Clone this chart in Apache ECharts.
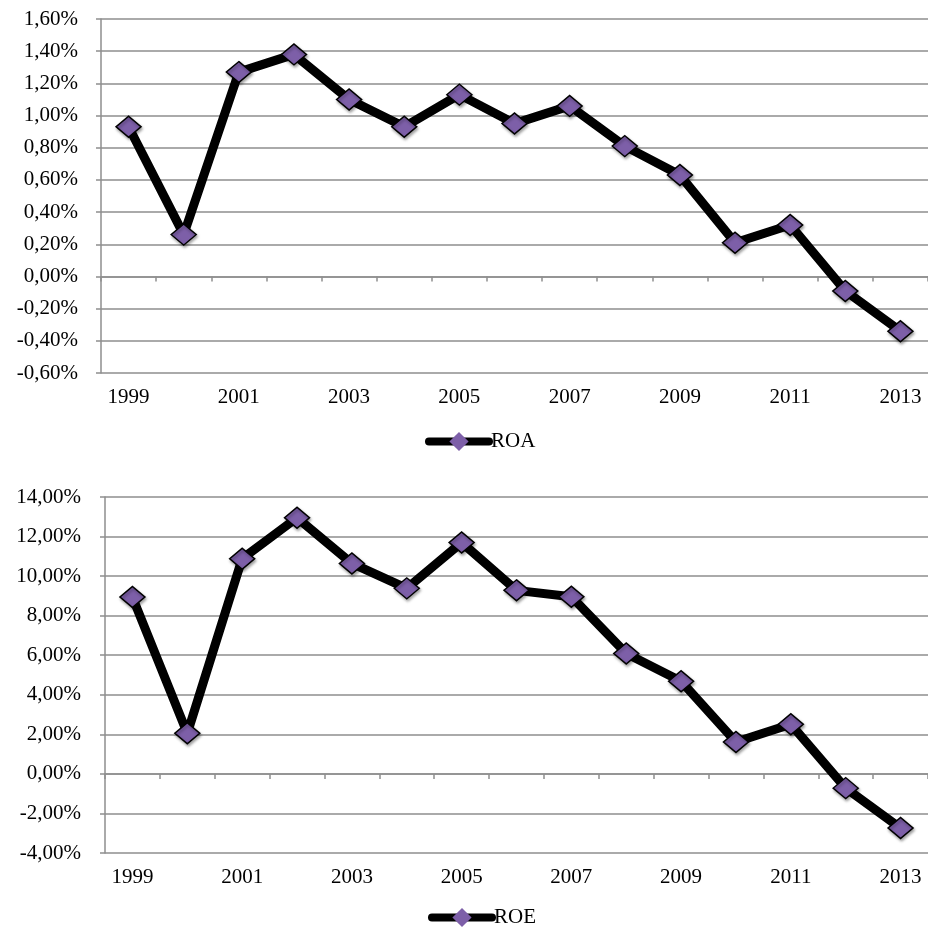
<!DOCTYPE html>
<html>
<head>
<meta charset="utf-8">
<script src="https://cdn.jsdelivr.net/npm/echarts@6/dist/echarts.min.js"></script>
<style>
html,body{margin:0;padding:0;background:#fff;}
#chart{width:928px;height:929px;}
</style>
</head>
<body>
<div id="chart"></div>
<script>
const years = ['1999','2000','2001','2002','2003','2004','2005','2006','2007','2008','2009','2010','2011','2012','2013'];
const roa = [0.93, 0.26, 1.27, 1.38, 1.10, 0.93, 1.13, 0.95, 1.06, 0.81, 0.63, 0.21, 0.32, -0.09, -0.34];
const roe = [8.94, 2.05, 10.88, 12.95, 10.64, 9.38, 11.70, 9.28, 8.96, 6.09, 4.68, 1.61, 2.51, -0.72, -2.74];
const roaAxis = {min: -0.6, max: 1.6, interval: 0.2};
const roeAxis = {min: -4, max: 14, interval: 2};

const FONT = "'Liberation Serif','Times New Roman',serif";
const GRID_COLOR = '#8e8e8e';
const PURPLE = '#7d5fa8';
const FS = 21;

function fmt(v){ return v.toFixed(2).replace('.', ',') + '%'; }

function yAxis(gi, ax, margin){
  return {
    type:'value', gridIndex:gi, min:ax.min, max:ax.max, interval:ax.interval,
    axisLine:{show:true, lineStyle:{color:GRID_COLOR, width:1.5}},
    axisTick:{show:true, length:5, lineStyle:{color:GRID_COLOR, width:1.5}},
    axisLabel:{formatter:fmt, color:'#000', fontFamily:FONT, fontSize:FS, margin:margin},
    splitLine:{show:true, lineStyle:{color:GRID_COLOR, width:1.5}}
  };
}
function xLabelAxis(gi, margin){
  return {
    type:'category', gridIndex:gi, data:years, position:'bottom', boundaryGap:true,
    axisLine:{show:false, onZero:false}, axisTick:{show:false},
    axisLabel:{interval:1, color:'#000', fontFamily:FONT, fontSize:FS, margin:margin},
    splitLine:{show:false}
  };
}
function xZeroAxis(gi){
  return {
    type:'category', gridIndex:gi, data:years, position:'bottom', boundaryGap:true,
    axisLine:{show:true, onZero:true, lineStyle:{color:GRID_COLOR, width:1.5}},
    axisTick:{show:true, interval:0, length:5, lineStyle:{color:GRID_COLOR, width:1.5}},
    axisLabel:{show:false}, splitLine:{show:false}
  };
}
function lineSeries(name, data, xi, yi){
  return {
    name:name, type:'line', data:data, xAxisIndex:xi, yAxisIndex:yi,
    symbol:'diamond', symbolSize:[25,21],
    lineStyle:{color:'#000', width:9, join:'round', cap:'round'},
    itemStyle:{color:PURPLE, borderColor:'#000', borderWidth:1.5,
      shadowColor:'rgba(0,0,0,0.35)', shadowBlur:3, shadowOffsetX:1, shadowOffsetY:2},
    emphasis:{disabled:true}, animation:false, z:3
  };
}
function legend(name, left, top){
  return {
    data:[name], left:left, top:top, itemWidth:60, itemHeight:24, itemGap:3,
    lineStyle:{color:'#000', width:8, cap:'round'},
    itemStyle:{color:PURPLE, borderColor:'#000', borderWidth:0, shadowBlur:0},
    textStyle:{color:'#000', fontFamily:FONT, fontSize:FS, padding:[0,0,0,-3]}
  };
}

const chart = echarts.init(document.getElementById('chart'), null, {renderer:'canvas'});
chart.setOption({
  backgroundColor:'#fff',
  animation:false,
  grid:[
    {left:101, top:19, right:0, height:354},
    {left:105, top:497, right:0, height:356}
  ],
  xAxis:[xLabelAxis(0,14), xZeroAxis(0), xLabelAxis(1,14), xZeroAxis(1)],
  yAxis:[yAxis(0, roaAxis, 23), yAxis(1, roeAxis, 24)],
  legend:[legend('ROA', 420, 426), legend('ROE', 423, 902)],
  series:[lineSeries('ROA', roa, 0, 0), lineSeries('ROE', roe, 2, 1)]
});
</script>
</body>
</html>
